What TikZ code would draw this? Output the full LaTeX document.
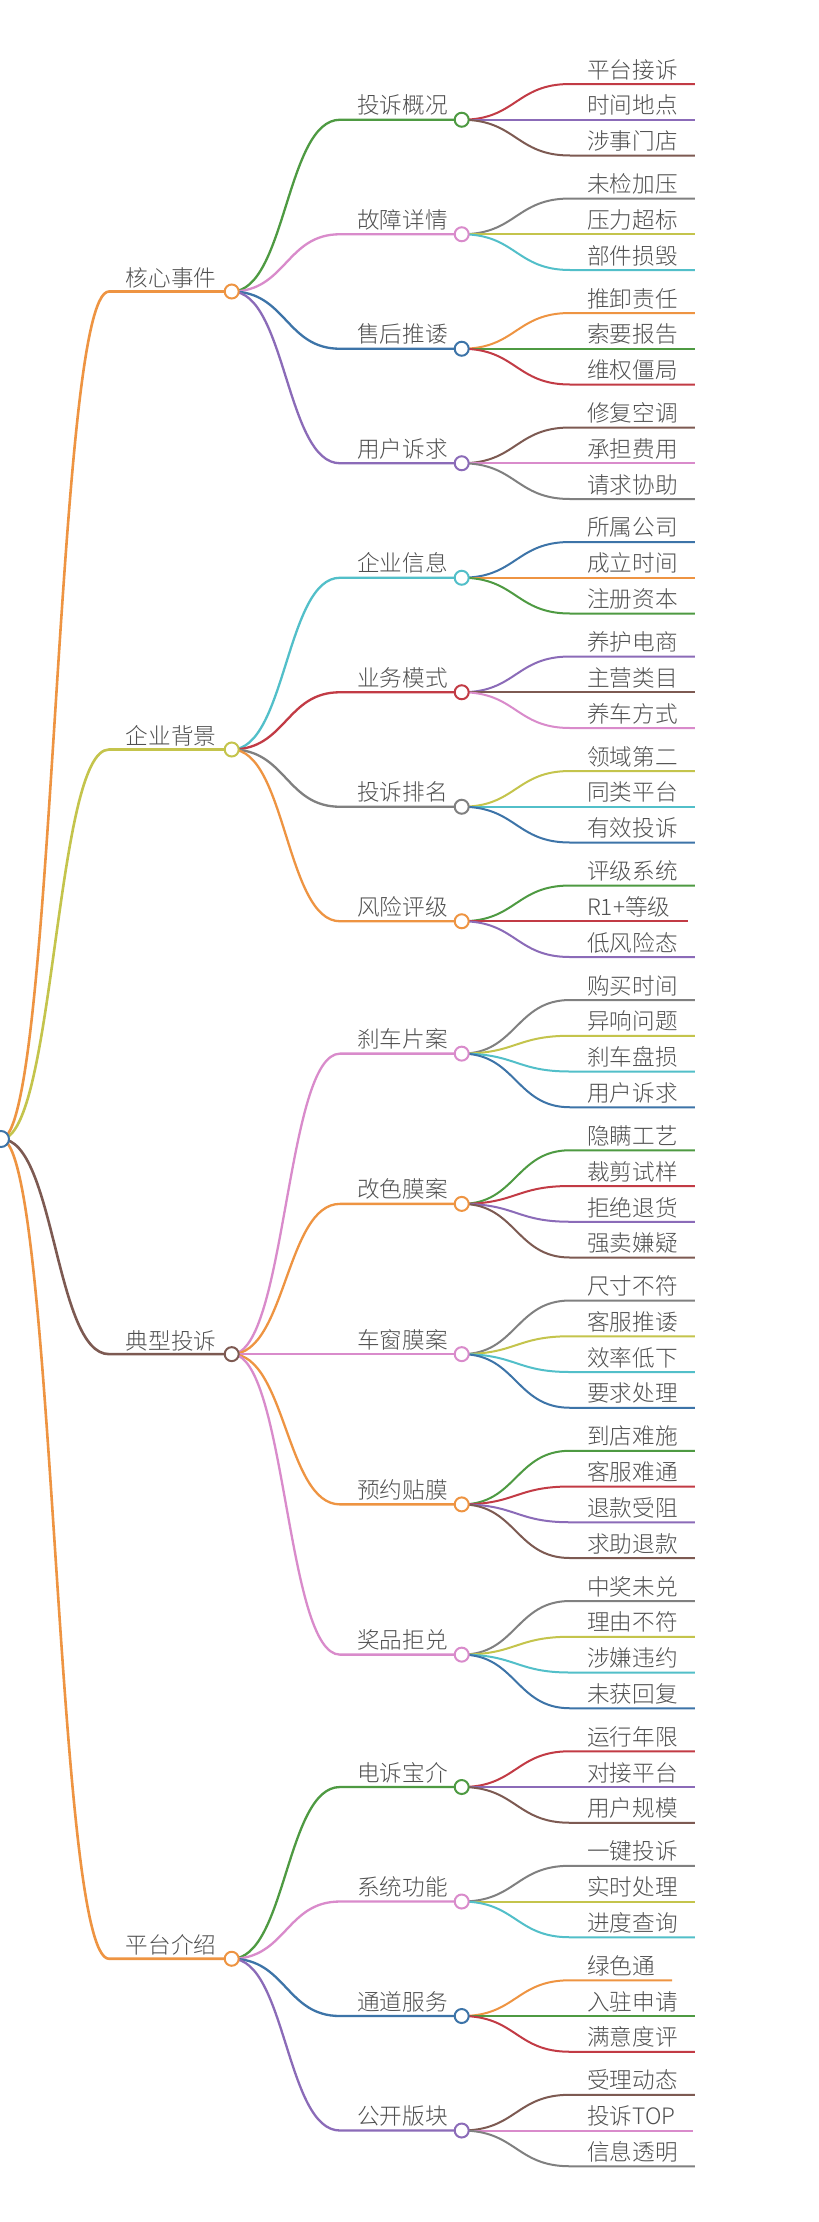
\documentclass[tikz,border=0pt]{standalone}
\usepackage{fontspec}
\IfFontExistsTF{Noto Sans CJK SC Light}{\setmainfont{Noto Sans CJK SC Light}}{\setmainfont{Noto Sans CJK SC}}
\usetikzlibrary{calc}
\pgfdeclarelayer{bg}
\pgfsetlayers{bg,main}
\definecolor{cBlue}{HTML}{3D74A8}
\definecolor{cOrange}{HTML}{EE9442}
\definecolor{cGreen}{HTML}{4E9A42}
\definecolor{cRed}{HTML}{C23B45}
\definecolor{cPurple}{HTML}{8B6BB8}
\definecolor{cBrown}{HTML}{7D5A52}
\definecolor{cPink}{HTML}{D98BCB}
\definecolor{cGray}{HTML}{808080}
\definecolor{cOlive}{HTML}{C4C44C}
\definecolor{cCyan}{HTML}{52BFC9}
\definecolor{txtc}{HTML}{505050}
\tikzset{
  circ/.style={circle, fill=white, line width=2pt, minimum size=14pt, inner sep=0pt},
  txt/.style={anchor=west, inner sep=0pt, text=txtc, font=\fontsize{22.6}{26}\selectfont},
  lnkA/.style={line width=2.6pt},
  lnkB/.style={line width=2.3pt},
  lnkC/.style={line width=2pt},
}
% level 1: name, y, colour, text
\newcommand\Lone[4]{%
  \node[circ,draw=#3] (#1) at (231.7,#2) {};
  \begin{pgfonlayer}{bg}
    \draw[lnkA,draw=#3] (root.center) .. controls (55,0 |- root.center) and (55,#2) .. (109,#2) -- (#1.center);
  \end{pgfonlayer}
  \node[txt] (#1t) at (125.7,{#2-13.7}) {#4};
}
% level 2: name, parent, y, colour, text
\newcommand\Ltwo[5]{%
  \node[circ,draw=#4] (#1) at (461.7,#3) {};
  \begin{pgfonlayer}{bg}
    \draw[lnkB,draw=#4] (#2.center) .. controls (286,0 |- #2.center) and (286,#3) .. (340,#3) -- (#1.center);
  \end{pgfonlayer}
  \node[txt] (#1t) at (357,{#3-14.5}) {#5};
}
% leaf: name, parent, y, colour, text
\newcommand\Lf[5]{%
  \node[txt] (#1) at (587,{#3-14.5}) {#5};
  \begin{pgfonlayer}{bg}
    \draw[lnkC,draw=#4] (#2.center) .. controls (516,0 |- #2.center) and (516,#3) .. (570,#3) -- ($(#1.east)+(17,14.5)$);
  \end{pgfonlayer}
}
\begin{document}
\begin{tikzpicture}[x=1pt,y=-1pt,line cap=round]
\begin{pgfonlayer}{bg}
\fill[white] (0,0) rectangle (819,2222);
\end{pgfonlayer}
\useasboundingbox (0,0) rectangle (819,2222);
\node[circ,draw=cBlue,minimum size=16pt] (root) at (1,1139) {};

\Lone{A}{291.5}{cOrange}{核心事件}
\Ltwo{A1}{A}{119.75}{cGreen}{投诉概况}
\Lf{A1a}{A1}{84}{cRed}{平台接诉}
\Lf{A1b}{A1}{119.75}{cPurple}{时间地点}
\Lf{A1c}{A1}{155.5}{cBrown}{涉事门店}
\Ltwo{A2}{A}{234.25}{cPink}{故障详情}
\Lf{A2a}{A2}{198.5}{cGray}{未检加压}
\Lf{A2b}{A2}{234.25}{cOlive}{压力超标}
\Lf{A2c}{A2}{270}{cCyan}{部件损毁}
\Ltwo{A3}{A}{348.75}{cBlue}{售后推诿}
\Lf{A3a}{A3}{313}{cOrange}{推卸责任}
\Lf{A3b}{A3}{348.75}{cGreen}{索要报告}
\Lf{A3c}{A3}{384.5}{cRed}{维权僵局}
\Ltwo{A4}{A}{463.25}{cPurple}{用户诉求}
\Lf{A4a}{A4}{427.5}{cBrown}{修复空调}
\Lf{A4b}{A4}{463.25}{cPink}{承担费用}
\Lf{A4c}{A4}{499}{cGray}{请求协助}

\Lone{B}{749.5}{cOlive}{企业背景}
\Ltwo{B1}{B}{577.75}{cCyan}{企业信息}
\Lf{B1a}{B1}{542}{cBlue}{所属公司}
\Lf{B1b}{B1}{577.75}{cOrange}{成立时间}
\Lf{B1c}{B1}{613.5}{cGreen}{注册资本}
\Ltwo{B2}{B}{692.25}{cRed}{业务模式}
\Lf{B2a}{B2}{656.5}{cPurple}{养护电商}
\Lf{B2b}{B2}{692.25}{cBrown}{主营类目}
\Lf{B2c}{B2}{728}{cPink}{养车方式}
\Ltwo{B3}{B}{806.75}{cGray}{投诉排名}
\Lf{B3a}{B3}{771}{cOlive}{领域第二}
\Lf{B3b}{B3}{806.75}{cCyan}{同类平台}
\Lf{B3c}{B3}{842.5}{cBlue}{有效投诉}
\Ltwo{B4}{B}{921.25}{cOrange}{风险评级}
\Lf{B4a}{B4}{885.5}{cGreen}{评级系统}
\Lf{B4b}{B4}{921.25}{cRed}{R1+等级}
\Lf{B4c}{B4}{957}{cPurple}{低风险态}

\Lone{C}{1354.125}{cBrown}{典型投诉}
\Ltwo{C1}{C}{1053.625}{cPink}{刹车片案}
\Lf{C1a}{C1}{1000}{cGray}{购买时间}
\Lf{C1b}{C1}{1035.75}{cOlive}{异响问题}
\Lf{C1c}{C1}{1071.5}{cCyan}{刹车盘损}
\Lf{C1d}{C1}{1107.25}{cBlue}{用户诉求}
\Ltwo{C2}{C}{1203.875}{cOrange}{改色膜案}
\Lf{C2a}{C2}{1150.25}{cGreen}{隐瞒工艺}
\Lf{C2b}{C2}{1186}{cRed}{裁剪试样}
\Lf{C2c}{C2}{1221.75}{cPurple}{拒绝退货}
\Lf{C2d}{C2}{1257.5}{cBrown}{强卖嫌疑}
\Ltwo{C3}{C}{1354.125}{cPink}{车窗膜案}
\Lf{C3a}{C3}{1300.5}{cGray}{尺寸不符}
\Lf{C3b}{C3}{1336.25}{cOlive}{客服推诿}
\Lf{C3c}{C3}{1372}{cCyan}{效率低下}
\Lf{C3d}{C3}{1407.75}{cBlue}{要求处理}
\Ltwo{C4}{C}{1504.375}{cOrange}{预约贴膜}
\Lf{C4a}{C4}{1450.75}{cGreen}{到店难施}
\Lf{C4b}{C4}{1486.5}{cRed}{客服难通}
\Lf{C4c}{C4}{1522.25}{cPurple}{退款受阻}
\Lf{C4d}{C4}{1558}{cBrown}{求助退款}
\Ltwo{C5}{C}{1654.625}{cPink}{奖品拒兑}
\Lf{C5a}{C5}{1601}{cGray}{中奖未兑}
\Lf{C5b}{C5}{1636.75}{cOlive}{理由不符}
\Lf{C5c}{C5}{1672.5}{cCyan}{涉嫌违约}
\Lf{C5d}{C5}{1708.25}{cBlue}{未获回复}

\Lone{D}{1958.75}{cOrange}{平台介绍}
\Ltwo{D1}{D}{1787}{cGreen}{电诉宝介}
\Lf{D1a}{D1}{1751.25}{cRed}{运行年限}
\Lf{D1b}{D1}{1787}{cPurple}{对接平台}
\Lf{D1c}{D1}{1822.75}{cBrown}{用户规模}
\Ltwo{D2}{D}{1901.5}{cPink}{系统功能}
\Lf{D2a}{D2}{1865.75}{cGray}{一键投诉}
\Lf{D2b}{D2}{1901.5}{cOlive}{实时处理}
\Lf{D2c}{D2}{1937.25}{cCyan}{进度查询}
\Ltwo{D3}{D}{2016}{cBlue}{通道服务}
\Lf{D3a}{D3}{1980.25}{cOrange}{绿色通}
\Lf{D3b}{D3}{2016}{cGreen}{入驻申请}
\Lf{D3c}{D3}{2051.75}{cRed}{满意度评}
\Ltwo{D4}{D}{2130.5}{cPurple}{公开版块}
\Lf{D4a}{D4}{2094.75}{cBrown}{受理动态}
\Lf{D4b}{D4}{2130.5}{cPink}{投诉TOP}
\Lf{D4c}{D4}{2166.25}{cGray}{信息透明}
\end{tikzpicture}
\end{document}
